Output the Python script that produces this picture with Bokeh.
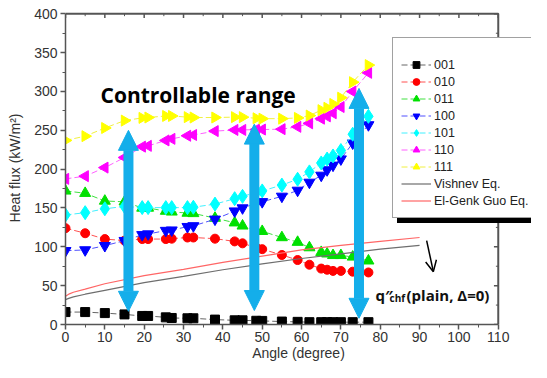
import math
from bokeh.plotting import figure
from bokeh.models import (Range1d, Legend, LegendItem, Arrow, NormalHead,
                          OpenHead, Label, FixedTicker)
from bokeh.embed import file_html
from bokeh.resources import INLINE

# ---------------- data ----------------
angles = [0, 5, 10, 15, 19.5, 21, 25.5, 27, 31, 32.5, 38, 43, 45, 48.5, 50, 55, 59, 62, 65, 66.5, 68, 70, 73, 77]
s001 = [16, 16, 14.7, 13, 11, 11, 9.2, 8.4, 8, 8, 6.3, 5.4, 5.4, 4.8, 4.6, 3.8, 3.4, 3, 3, 3, 3, 3, 3, 3]
s010 = [124, 117.5, 110, 108, 110, 110, 110, 110.5, 112, 112, 110.5, 107, 104.5, 99, 97, 89.5, 83, 77, 72, 70.5, 69, 69, 68, 67]
s011 = [172, 169, 159, 158, 150, 150, 146, 145, 143.5, 143, 137, 131, 127, 121, 120, 112, 106, 99, 93, 91, 89, 89, 87, 82]
s100 = [95, 96, 101.5, 108, 115.5, 116.5, 121, 121.5, 126, 127, 135.5, 146, 150, 156, 158, 165, 172.7, 183, 192, 199, 205, 213, 233.5, 257]
s101 = [141, 144, 149, 152, 150.5, 150.5, 150.5, 150.5, 150.5, 151, 155, 162, 165, 170, 172, 179.5, 187, 196.5, 208, 213, 217, 224, 245, 268]
s110 = [187.5, 191, 202, 215, 229, 230, 237, 239, 243, 244, 249, 250.5, 250.5, 251, 251, 251.5, 254.5, 259, 265, 268, 272, 280, 300, 324]
s111 = [237, 242.5, 253, 262.5, 266, 266.5, 268.5, 268.5, 267, 266.5, 266.5, 267, 267, 265.5, 265, 265, 266, 269, 276, 279, 284, 292, 312, 334]

eq_angles = [0, 1, 2, 5, 10, 20, 30, 40, 50, 60, 70, 80, 90]
vishnev = [32, 34, 35.5, 39, 44, 54, 62, 70.5, 78, 85, 91, 97, 102]
elgenk = [36.5, 39.5, 41.5, 45.5, 52.5, 63, 71, 80, 88, 96, 102, 107, 112]

series_names = ["001", "010", "011", "100", "101", "110", "111"]

x_max = 110
x_view_max = 118.45
y_max = 400
y_view_max = 403
x_ticks = [0, 10, 20, 30, 40, 50, 60, 70, 80, 90, 100, 110]
x_minor = [5, 15, 25, 35, 45, 55, 65, 75, 85, 95, 105]
y_ticks = [0, 50, 100, 150, 200, 250, 300, 350, 400]
y_minor = [25, 75, 125, 175, 225, 275, 325, 375]

range_x = [16, 48, 74.6]
range_low = [17, 18, 8]
range_high = [250, 258, 304]
pointer_x = [91.8, 93.5]
pointer_y = [108, 68]
title_pos = (8.9, 296)
note_pos = (78.8, 38.5)

# ---------------- figure ----------------
p = figure(frame_width=466, frame_height=313, output_backend="svg", toolbar_location=None,
           x_range=Range1d(0, x_view_max), y_range=Range1d(0, y_view_max),
           min_border_left=65, min_border_top=11, min_border_right=0, min_border_bottom=0)
p.grid.visible = False
p.outline_line_color = None
p.background_fill_color = "white"
p.border_fill_color = "white"

axis_col = "#555555"
for ax in (p.xaxis[0], p.yaxis[0]):
    ax.axis_line_color = axis_col
    ax.axis_line_width = 1.5
    ax.major_tick_line_color = axis_col
    ax.minor_tick_line_color = axis_col
    ax.major_tick_line_width = 1.5
    ax.major_tick_out = 5
    ax.major_tick_in = 0
    ax.minor_tick_out = 3
    ax.minor_tick_in = 0
    ax.major_label_text_font = "Liberation Sans"
    ax.major_label_text_font_size = "14px"
    ax.major_label_text_color = "#333333"
    ax.axis_label_text_font = "Liberation Sans"
    ax.axis_label_text_font_size = "14px"
    ax.axis_label_text_font_style = "normal"
    ax.axis_label_text_color = "#333333"
    ax.major_label_standoff = 3

p.xaxis.bounds = (0, x_max)
p.yaxis.bounds = (0, y_max)
p.xaxis.ticker = FixedTicker(ticks=x_ticks, minor_ticks=x_minor)
p.yaxis.ticker = FixedTicker(ticks=y_ticks, minor_ticks=y_minor)
p.xaxis.axis_label = "Angle (degree)"
p.yaxis.axis_label = "Heat flux (kW/m\u00b2)"
p.xaxis.axis_label_standoff = 0
p.xaxis.major_label_standoff = 2
p.yaxis.axis_label_standoff = 8

# mirrored top/right frame with inward ticks
tick_y_major, tick_y_minor = 5.5, 3
tick_x_major, tick_x_minor = 1.1, 0.6
p.line(x=[0, x_max, x_max], y=[y_max, y_max, 0], line_color=axis_col, line_width=2)
p.segment(x0=x_ticks, y0=[y_max] * len(x_ticks), x1=x_ticks,
          y1=[y_max - tick_y_major] * len(x_ticks), line_color=axis_col, line_width=1.5)
p.segment(x0=x_minor, y0=[y_max] * len(x_minor), x1=x_minor,
          y1=[y_max - tick_y_minor] * len(x_minor), line_color=axis_col, line_width=1)
p.segment(x0=[x_max] * len(y_ticks), y0=y_ticks, x1=[x_max - tick_x_major] * len(y_ticks),
          y1=y_ticks, line_color=axis_col, line_width=1.5)
p.segment(x0=[x_max] * len(y_minor), y0=y_minor, x1=[x_max - tick_x_minor] * len(y_minor),
          y1=y_minor, line_color=axis_col, line_width=1)

# ---------------- series ----------------
styles = [
    (s001, "square", "#000000", "#666666", 9, 0),
    (s010, "circle", "#FF0000", "#FF5050", 9, 0),
    (s011, "triangle", "#00E000", "#40E040", 11, 0),
    (s100, "inverted_triangle", "#0000FF", "#5050FF", 11, 0),
    (s101, "diamond", "#00FFFF", "#40F0FF", 14, 0),
    (s110, "triangle", "#FF00FF", "#FF60FF", 11, math.pi / 2),
    (s111, "triangle", "#FFFF00", "#F0F040", 11, -math.pi / 2),
]

items = []
shadow_items = []
for name, (vals, marker, col, lcol, size, ang) in zip(series_names, styles):
    lr = p.line(angles, vals, line_color=lcol, line_width=1, line_dash="6 3")
    sr = p.scatter(angles, vals, marker=marker, size=size, angle=ang,
                   fill_color=col, line_color=col)
    items.append(LegendItem(label=name, renderers=[lr, sr]))
    shadow_items.append(LegendItem(label=name, renderers=[lr]))

vr = p.line(eq_angles, vishnev, line_color="#6e6e6e", line_width=1.2)
er = p.line(eq_angles, elgenk, line_color="#FF6666", line_width=1.2)
items.append(LegendItem(label="Vishnev Eq.", renderers=[vr]))
items.append(LegendItem(label="El-Genk Guo Eq.", renderers=[er]))
shadow_items.append(LegendItem(label="Vishnev Eq.", renderers=[vr]))
shadow_items.append(LegendItem(label="El-Genk Guo Eq.", renderers=[er]))

# ---------------- arrows & notes ----------------
acol = "#14AEEA"
for xa, lo, hi in zip(range_x, range_low, range_high):
    p.add_layout(Arrow(x_start=xa, y_start=lo, x_end=xa, y_end=hi,
                       start=NormalHead(size=20, fill_color=acol, line_color=acol),
                       end=NormalHead(size=20, fill_color=acol, line_color=acol),
                       line_color=acol, line_width=10))

p.add_layout(Arrow(x_start=pointer_x[0], y_start=pointer_y[0], x_end=pointer_x[1], y_end=pointer_y[1],
                   end=OpenHead(size=11, line_width=1.5, line_color="black"),
                   line_color="black", line_width=1.5))

p.add_layout(Label(x=title_pos[0], y=title_pos[1], text="Controllable range", text_font="Open Sans",
                   text_font_style="bold", text_font_size="21px", text_color="black",
                   text_baseline="alphabetic"))
p.add_layout(Label(x=note_pos[0], y=note_pos[1], text="q\u2033", text_font="Open Sans",
                   text_font_style="bold", text_font_size="15px", text_color="#111111",
                   text_baseline="alphabetic"))
p.add_layout(Label(x=note_pos[0], y=note_pos[1], x_offset=14, y_offset=-3, text="chf", text_font="Open Sans",
                   text_font_style="bold", text_font_size="10px", text_color="#111111",
                   text_baseline="alphabetic"))
p.add_layout(Label(x=note_pos[0], y=note_pos[1], x_offset=31, text="(plain,  \u0394=0)", text_font="Open Sans",
                   text_font_style="bold", text_font_size="15px", text_color="#111111",
                   text_baseline="alphabetic"))

# ---------------- legend (with shadow), running past the right edge ----------------
def make_legend(its, loc, shadow=False):
    lg = Legend(items=its, location=loc, padding=8, spacing=0, margin=0,
                label_height=17, glyph_height=17, glyph_width=30, label_standoff=3,
                label_width=140,
                label_text_font="Liberation Sans", label_text_font_size="12.5px",
                label_text_color="#222222", title=" ", title_text_font_size="8px",
                title_standoff=1, border_line_color="#444444", border_line_width=1,
                background_fill_color="white", background_fill_alpha=1.0)
    if shadow:
        lg.background_fill_color = "black"
        lg.border_line_color = "black"
        lg.label_text_color = "black"
    return lg

legend_loc = (327, 106)
shadow_dx = 5
p.add_layout(make_legend(shadow_items, (legend_loc[0] + shadow_dx, legend_loc[1] - shadow_dx), shadow=True), "center")
p.add_layout(make_legend(items, legend_loc), "center")

open("out.html", "w").write(file_html(p, INLINE))
